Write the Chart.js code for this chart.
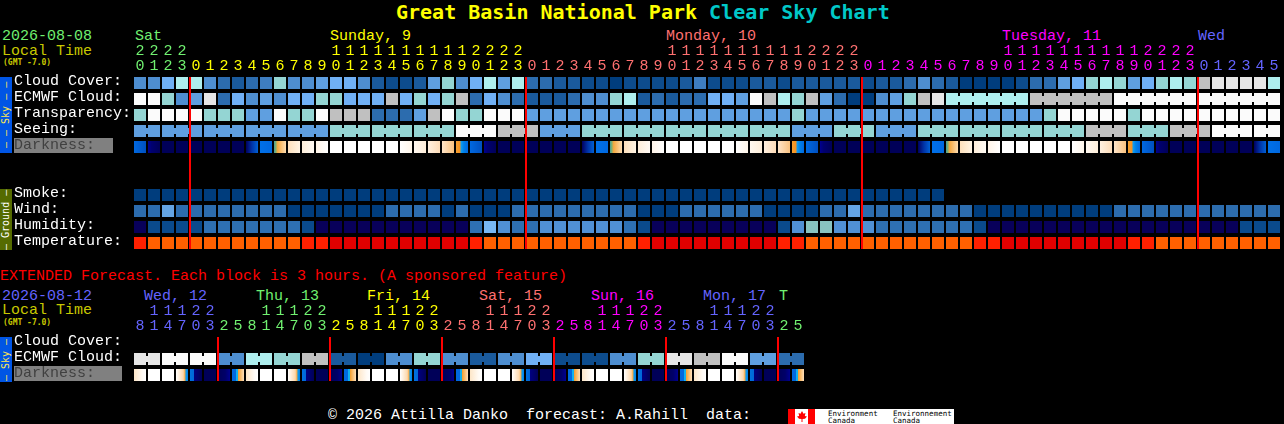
<!DOCTYPE html>
<html>
<head>
<meta charset="utf-8">
<title>Great Basin National Park Clear Sky Chart</title>
<script src="https://cdn.jsdelivr.net/npm/chart.js@4"></script>
<style>
  html, body { margin: 0; padding: 0; background: #000; width: 1284px; height: 424px; overflow: hidden; }
  body { position: relative; font-family: "Liberation Mono", monospace; font-size: 15px; color: #fff; }
  canvas { position: absolute; left: 0; }
  .t { position: absolute; white-space: pre; line-height: 16px; }
  .side { position: absolute; left: 0; width: 12px; writing-mode: vertical-rl; transform: rotate(180deg);
          font-family: "DejaVu Sans Mono", monospace; font-size: 10px; line-height: 12px; text-align: center; white-space: pre; }
  .grey { position: absolute; left: 14px; background: #808080; }
  .green { color: #70f070; } .yellow { color: #ffff00; } .salmon { color: #ff7070; }
  .magenta { color: #ff00ff; } .blue { color: #6464ff; } .olive { color: #c8c800; }
  .gmt { font-family: "DejaVu Sans Mono", monospace; font-size: 8px; font-weight: bold; color: #c8c800; }
</style>
</head>
<body>

<div class="t" style="left:396px;top:1px;font-family:'DejaVu Sans Mono',monospace;font-size:20px;font-weight:bold;line-height:22px;color:#ffff00">Great Basin National Park <span style="color:#00c8c8">Clear Sky Chart</span></div>

<div class="t green" style="left:2px;top:29px">2026-08-08</div>
<div class="t olive" style="left:2px;top:44px">Local Time</div>
<div class="t gmt" style="left:3px;top:55px">(GMT -7.0)</div>
<div class="t green" style="left:135px;top:29px">Sat</div>
<div class="t yellow" style="left:330px;top:29px">Sunday, 9</div>
<div class="t salmon" style="left:666px;top:29px">Monday, 10</div>
<div class="t magenta" style="left:1002px;top:29px">Tuesday, 11</div>
<div class="t blue" style="left:1198px;top:29px">Wed</div>

<div class="side" style="top:77px;height:76px;background:#0055e5;color:#ffe850">— — Sky — —</div>
<div class="side" style="top:189px;height:61px;background:#556b00;color:#fff">— Ground —</div>
<div class="grey" style="top:138px;width:99px;height:15px"></div>

<div class="t" style="left:0;top:269px;color:#ff0000">EXTENDED Forecast. Each block is 3 hours. (A sponsored feature)</div>
<div class="t blue" style="left:2px;top:289px">2026-08-12</div>
<div class="t olive" style="left:2px;top:303px">Local Time</div>
<div class="t gmt" style="left:3px;top:315px">(GMT -7.0)</div>
<div class="t blue" style="left:144px;top:289px">Wed, 12</div>
<div class="t green" style="left:256px;top:289px">Thu, 13</div>
<div class="t yellow" style="left:367px;top:289px">Fri, 14</div>
<div class="t salmon" style="left:479px;top:289px">Sat, 15</div>
<div class="t magenta" style="left:591px;top:289px">Sun, 16</div>
<div class="t blue" style="left:703px;top:289px">Mon, 17</div>
<div class="t green" style="left:779px;top:289px">T</div>

<div class="side" style="top:337px;height:45px;background:#0055e5;color:#ffe850">— Sky —</div>
<div class="grey" style="top:366px;width:108px;height:15px"></div>

<div class="t" style="left:328px;top:408px">© 2026 Attilla Danko  forecast: A.Rahill  data:</div>

<div style="position:absolute;left:788px;top:409px;width:166px;height:15px;background:#fff;overflow:hidden;color:#000;font-size:7.5px;line-height:7px;font-family:'DejaVu Sans Mono',monospace">
  <div style="position:absolute;left:0;top:0;width:7px;height:15px;background:#ff0000"></div>
  <div style="position:absolute;left:20px;top:0;width:7px;height:15px;background:#ff0000"></div>
  <div style="position:absolute;left:9px;top:2px;width:10px;height:11px;background:#ff0000;clip-path:polygon(50% 0,65% 25%,85% 18%,78% 45%,100% 50%,80% 70%,55% 72%,55% 100%,45% 100%,45% 72%,20% 70%,0 50%,22% 45%,15% 18%,35% 25%)"></div>
  <div style="position:absolute;left:40px;top:1px;white-space:pre">Environment
Canada</div>
  <div style="position:absolute;left:105px;top:1px;white-space:pre">Environnement
Canada</div>
</div>

<canvas id="mainChart" width="1281" height="253" style="top:0"></canvas>
<canvas id="extChart" width="805" height="120" style="top:265px"></canvas>

<script>
// hours along the top of each panel
var mainHours = [20,21,22,23,
  0,1,2,3,4,5,6,7,8,9,10,11,12,13,14,15,16,17,18,19,20,21,22,23,
  0,1,2,3,4,5,6,7,8,9,10,11,12,13,14,15,16,17,18,19,20,21,22,23,
  0,1,2,3,4,5,6,7,8,9,10,11,12,13,14,15,16,17,18,19,20,21,22,23,
  0,1,2,3,4,5];
var extHours = [8,11,14,17,20,23,
  2,5,8,11,14,17,20,23,
  2,5,8,11,14,17,20,23,
  2,5,8,11,14,17,20,23,
  2,5,8,11,14,17,20,23,
  2,5,8,11,14,17,20,23,
  2,5];
var mainDayColors = ["#70f070", "#ffff00", "#ff7070", "#ff00ff", "#6464ff"];
var extDayColors = ["#6464ff", "#70f070", "#ffff00", "#ff7070", "#ff00ff", "#6464ff", "#70f070"];

var mainRows = ["Cloud Cover:", "ECMWF Cloud:", "Transparency:", "Seeing:", "Darkness:", "Smoke:", "Wind:", "Humidity:", "Temperature:"];
var extRows = ["Cloud Cover:", "ECMWF Cloud:", "Darkness:"];

// sky levels, 0 = best (dark blue) .. 12 = worst (white)
var cloudCover = [5,5,7,9,9,5,3,2,3,4,8,5,5,6,7,7,5,2,1,1,2,
  6,8,5,7,9,6,9,
  3,3,2,2,1,1,0,1,1,1,1,2,4,1,1,1,2,2,1,2,2,2,2,2,
  1,2,2,3,5,3,2,0,0,0,0,1,3,3,6,7,8,9,8,6,7,8,9,8,10,11,11,11,11,9];
var ecmwfCloud = [12,12,8,5,6,11,3,7,5,6,5,7,7,8,8,7,7,7,10,7,8,
  7,8,10,3,7,5,3,
  2,2,2,3,5,5,8,9,2,3,2,3,3,7,7,6,12,10,9,8,10,6,3,0,
  0,5,6,8,10,11,
  9,9,9,9,9,9,
  10,10,10,10,10,10,
  12,12,12,12,12,12,
  12,12,12,12,12,12];
var transparency = [8,12,12,12,12,8,8,8,6,6,12,8,8,12,10,10,10,3,3,3,6,
  10,12,8,8,12,12,12,
  6,6,6,6,6,6,6,6,6,6,6,6,6,6,6,6,6,6,6,8,6,6,6,6,
  6,6,6,6,6,6,6,6,6,6,6,6,6,8,12,12,12,12,12,8,12,12,12,12,12,12,12,12,12,12];
var seeing = [6,6, 6,6,6, 6,6,6, 6,6,6, 6,6,6,
  8,8,8, 8,8,8, 8,8,8, 12,12,12, 10,10,10, 6,6,6,
  8,8,8, 8,8,8, 8,8,8, 8,8,8, 8,8,8, 6,6,6, 8,8,8,
  6,6,6, 8,8,8, 8,8,8, 8,8,8, 8,8,8, 10,10,10, 8,8,8, 10,10,10, 12,12,12, 12,12];
var seeingRuns = [[0,1],[2,4],[5,7],[8,10],[11,13],[14,16],[17,19],[20,22],[23,25],[26,28],[29,31],[32,34],[35,37],
  [38,40],[41,43],[44,46],[47,49],[50,52],[53,55],[56,58],[59,61],[62,64],[65,67],[68,70],[71,73],[74,76],[77,79],[80,81]];
var ecmwfRuns = [[58,63],[64,69],[70,75],[76,81]];

// n night, a dusk/dawn ramp, b blue, r sunrise, p morning peach, w day, q afternoon peach, s sunset, t/u after sunset
var darkness = ["t","u","n","n","n","n","n","n","a","b","r","p1","p2","p3","w","w","w","w","w","q3","q2","q1","q0","s",
  "t","u","n","n","n","n","n","n","a","b","r","p1","p2","p3","w","w","w","w","w","q3","q2","q1","q0","s",
  "t","u","n","n","n","n","n","n","a","b","r","p1","p2","p3","w","w","w","w","w","q3","q2","q1","q0","s",
  "t","u","n","n","n","n","n","n","a","b"];

var smoke = [0,0,0,0,0,0,0,0,0,0,0,0,0,0,0,0,0,0,0,0,0,0,0,0,0,0,0,0,0,0,0,0,0,0,0,0,0,0,0,0,0,0,0,0,0,0,0,0,0,0,0,0,0,0,0,0,0,0];
var wind = [1,1,2,1,1,1,1,1,1,1,1,0,0,0,0,0,0,0,1,1,1,
  1,0,1,0,0,0,1,
  1,1,1,1,1,1,1,1,0,0,0,1,1,1,1,1,1,0,0,0,0,1,1,2,
  1,1,1,1,1,1,1,1,0,0,0,0,0,0,0,0,0,0,1,1,1,1,1,1,1,1,1,1,1,1];
var humidity = [0,1,1,1,1,2,2,2,2,2,2,2,1,0,0,0,0,0,0,0,0,
  0,0,0,2,4,3,2,
  2,3,3,3,3,3,3,2,1,0,0,0,0,0,0,0,0,0,1,3,5,5,3,3,
  3,2,2,2,2,2,2,2,1,0,0,0,0,0,0,0,0,0,0,0,0,0,0,0,0,0,0,1,1,1];
var temperature = [1,2,2,2,2,2,2,2,2,2,2,2,1,1,0,0,0,0,0,0,0,
  0,0,0,1,2,2,2,
  2,2,2,2,2,2,2,2,1,0,0,0,0,0,0,0,0,0,1,1,2,2,2,2,
  2,2,2,2,2,2,2,2,1,1,0,0,0,0,0,0,0,0,0,1,1,2,2,2,2,2,2,2,2,2];

var extEcmwf = [11,11,12,12,12,12,5,5,9,9,8,8,10,10,2,2,0,0,5,5,8,8,5,5,
  2,2,5,5,7,7,1,1,1,1,5,5,8,8,11,11,10,10,12,12,6,6,3,3];
var extDarkness = ["x0","w","w","x3","x4","n","x6","x7",
  "x0","w","w","x3","x4","n","x6","x7",
  "x0","w","w","x3","x4","n","x6","x7",
  "x0","w","w","x3","x4","n","x6","x7",
  "x0","w","w","x3","x4","n","x6","x7",
  "x0","w","w","x3","x4","n","x6","x7"];

var mainMidnights = [4,28,52,76];
var extMidnights = [6,14,22,30,38,46];

var skyColors = ["#003d7d","#0d4c8d","#1a5a9c","#2c6cae","#3e7dc0","#4e8ed0","#5f9fe0","#70b0f5","#94d5d3","#aeeeee","#c0c0c0","#e6e6e6","#fbfbfb"];
var smokeColors = ["#003d7d"];
var windColors = ["#003d7d","#2c6cae","#64a4e4"];
var humidityColors = ["#08005a","#0a4a8c","#2e70b2","#5090d4","#78b8f4","#88c4c0"];
var tempColors = ["#e00000","#ff2000","#ff6000"];

var darkStops = {
  n: [[0,"#000058"],[1,"#000058"]],
  a: [[0,"#000060"],[0.5,"#0034a8"],[1,"#0060d4"]],
  b: [[0,"#0070e8"],[1,"#0068e0"]],
  r: [[0,"#40a0a0"],[0.15,"#80b070"],[0.3,"#f5a840"],[1,"#fcdcb0"]],
  p1: [[0,"#fde0bc"],[1,"#fff4e4"]],
  p2: [[0,"#feeeda"],[1,"#fffaf4"]],
  p3: [[0,"#fff4e8"],[1,"#ffffff"]],
  w: [[0,"#ffffff"],[1,"#ffffff"]],
  q3: [[0,"#ffffff"],[1,"#fff6ea"]],
  q2: [[0,"#fff8f0"],[1,"#feeeda"]],
  q1: [[0,"#fff0e0"],[1,"#fddcb8"]],
  q0: [[0,"#fee4c8"],[1,"#f9c280"]],
  s: [[0,"#f5a030"],[0.35,"#f59020"],[0.4,"#10a0f0"],[0.65,"#0080e8"],[1,"#0068e0"]],
  t: [[0,"#0068e0"],[1,"#0050c0"]],
  u: [[0,"#000090"],[0.3,"#000070"],[1,"#000058"]],
  x0: [[0,"#fde6c8"],[0.7,"#fffaf4"],[1,"#ffffff"]],
  x3: [[0,"#ffffff"],[0.6,"#fdd8ac"],[0.78,"#f5a030"],[0.8,"#10a0f0"],[1,"#0080e8"]],
  x4: [[0,"#0070e0"],[0.3,"#0068d8"],[0.35,"#000080"],[1,"#000058"]],
  x6: [[0,"#000058"],[0.6,"#000068"],[1,"#000090"]],
  x7: [[0,"#0068e0"],[0.3,"#0068e0"],[0.35,"#10b0f0"],[0.5,"#10b0f0"],[0.52,"#f5a030"],[1,"#fde0bc"]]
};

var rowBand = 0.75; // cell height as a share of a row

// plain strip of cells, one colour per value
function strip(values, row, colors) {
  return {
    type: "bar",
    xAxisID: "x",
    data: values.map(function(v) { return [row, row + rowBand]; }),
    backgroundColor: values.map(function(v) { return colors[v]; }),
    grouped: false,
    categoryPercentage: 12 / 14,
    barPercentage: 1,
    borderWidth: 0,
    order: 2
  };
}

// darkness strip, each cell is a horizontal gradient
function darkStrip(kinds, row) {
  return {
    type: "bar",
    xAxisID: "x",
    data: kinds.map(function() { return [row, row + rowBand]; }),
    backgroundColor: function(ctx) {
      var chart = ctx.chart;
      if (ctx.dataIndex === undefined || !chart.scales.x) return "#000";
      var mid = chart.scales.x.getPixelForValue(ctx.dataIndex);
      if (!isFinite(mid)) return "#000";
      var g = chart.ctx.createLinearGradient(mid - 6, 0, mid + 6, 0);
      darkStops[kinds[ctx.dataIndex]].forEach(function(s) { g.addColorStop(s[0], s[1]); });
      return g;
    },
    grouped: false,
    categoryPercentage: 12 / 14,
    barPercentage: 1,
    borderWidth: 0,
    order: 2
  };
}

// links the cells of one forecast step, a thick line through the gaps
function links(values, runs, row) {
  return runs.map(function(run) {
    return {
      type: "line",
      xAxisID: "xr",
      data: [{ x: run[0], y: row + rowBand / 2 }, { x: run[1], y: row + rowBand / 2 }],
      borderColor: skyColors[values[run[0]]],
      borderWidth: 6,
      borderCapStyle: "butt",
      pointRadius: 0,
      tension: 0,
      order: 3
    };
  });
}

function midnightLines(cols, lastRow) {
  return cols.map(function(c) {
    return {
      type: "line",
      xAxisID: "xr",
      data: [{ x: c, y: 0 }, { x: c, y: lastRow + rowBand }],
      borderColor: "#ff0000",
      borderWidth: 2,
      borderCapStyle: "butt",
      pointRadius: 0,
      order: 0
    };
  });
}

function dayIndex(hours) {
  var day = 0, out = [];
  hours.forEach(function(h, i) {
    if (i > 0 && h < hours[i - 1]) day++;
    out.push(day);
  });
  return out;
}

function noPadding(s) {
  s.paddingLeft = s.paddingRight = s.paddingTop = s.paddingBottom = 0;
}

function makeChart(id, hours, dayColors, rowNames, rowAt, rowCount, axisHeight, datasets) {
  var days = dayIndex(hours);
  return new Chart(document.getElementById(id), {
    data: { labels: hours, datasets: datasets },
    options: {
      responsive: false,
      animation: false,
      devicePixelRatio: 1,
      events: [],
      layout: { padding: { left: 14, top: 0, right: 0, bottom: 0 }, autoPadding: false },
      plugins: { legend: { display: false }, title: { display: false }, tooltip: { enabled: false } },
      scales: {
        x: {
          type: "category",
          position: "top",
          offset: true,
          grid: { display: false, drawTicks: false },
          border: { display: false },
          afterFit: function(s) { s.height = axisHeight; noPadding(s); },
          ticks: {
            autoSkip: false,
            maxRotation: 0,
            padding: 3,
            font: { family: "'Liberation Mono', monospace", size: 15, lineHeight: "15px" },
            color: function(c) { return dayColors[days[c.index]]; },
            callback: function(v, i) {
              var h = hours[i];
              return [h >= 10 ? String(Math.floor(h / 10)) : " ", String(h % 10)];
            }
          }
        },
        // same span as x, used for the things that sit on a cell's left edge
        xr: {
          type: "linear",
          display: false,
          position: "top",
          min: -1 / 14,
          max: hours.length - 1 / 14,
          grid: { display: false, drawTicks: false },
          ticks: { display: false },
          afterFit: function(s) { s.height = 0; noPadding(s); }
        },
        y: {
          type: "linear",
          position: "left",
          reverse: true,
          min: 0,
          max: rowCount,
          grid: { display: false, drawTicks: false },
          border: { display: false },
          afterFit: function(s) { s.width = 119; noPadding(s); },
          afterBuildTicks: function(s) {
            s.ticks = rowAt.map(function(r) { return { value: r + 0.25 }; });
          },
          ticks: {
            crossAlign: "far",
            padding: 0,
            autoSkip: false,
            font: { family: "'Liberation Mono', monospace", size: 15 },
            color: function(c) { return rowNames[c.index] === "Darkness:" ? "#404040" : "#ffffff"; },
            callback: function(v, i) { return rowNames[i]; }
          }
        }
      }
    }
  });
}

var mainSets = [
  strip(cloudCover, 0, skyColors),
  strip(ecmwfCloud, 1, skyColors),
  strip(transparency, 2, skyColors),
  strip(seeing, 3, skyColors),
  darkStrip(darkness, 4),
  strip(smoke, 7, smokeColors),
  strip(wind, 8, windColors),
  strip(humidity, 9, humidityColors),
  strip(temperature, 10, tempColors)
].concat(links(seeing, seeingRuns, 3), links(ecmwfCloud, ecmwfRuns, 1), midnightLines(mainMidnights, 10));

var extRuns = extEcmwf.map(function(v, i) { return [i, i + 1]; }).filter(function(r) { return r[0] % 2 === 0; });
var extSets = [
  strip(extEcmwf, 1, skyColors),
  darkStrip(extDarkness, 2)
].concat(links(extEcmwf, extRuns, 1), midnightLines(extMidnights, 2));

makeChart("mainChart", mainHours, mainDayColors, mainRows, [0, 1, 2, 3, 4, 7, 8, 9, 10], 11, 77, mainSets);
makeChart("extChart", extHours, extDayColors, extRows, [0, 1, 2], 3, 72, extSets);
</script>
</body>
</html>
